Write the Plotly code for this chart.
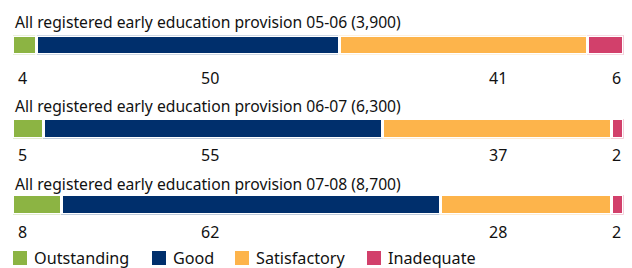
import plotly.graph_objects as go
import numpy as np

# ---- data ----
row_titles = [
    "All registered early education provision 05-06 (3,900)",
    "All registered early education provision 06-07 (6,300)",
    "All registered early education provision 07-08 (8,700)",
]
categories = ["Outstanding", "Good", "Satisfactory", "Inadequate"]
outstanding = [4, 5, 8]
good = [50, 55, 62]
satisfactory = [41, 37, 28]
inadequate = [6, 2, 2]

# ---- style / layout ----
colors = ["#8cb443", "#002f6c", "#fdb44b", "#d2406b"]
FONT = "Noto Sans"
W, H = 632, 268


def px(x):
    return x / W


def py(y):
    return 1 - y / H


series = [outstanding, good, satisfactory, inadequate]
totals = np.sum(np.array(series), axis=0)

bar_top = [35.3, 118.5, 194.5]
bar_bot = [54.7, 138.5, 214.5]
title_mid = [22, 106, 184]
label_mid = [78, 155, 232]
x_left, x_right = 12.5, 623.5
label_cols = [(16, "left"), (210, "center"), (498, "center"), (623, "right")]

fig = go.Figure()
layout = dict(
    width=W, height=H,
    margin=dict(l=0, r=0, t=0, b=0),
    paper_bgcolor="white", plot_bgcolor="white",
    barmode="stack", showlegend=False,
    font=dict(family=FONT, size=15, color="#111111"),
)
annotations = []
shapes = []

for r in range(3):
    xa = "x" if r == 0 else f"x{r+1}"
    ya = "y" if r == 0 else f"y{r+1}"
    for c, cat in enumerate(categories):
        v = series[c][r]
        fig.add_trace(go.Bar(
            x=[v / totals[r] * 100], y=[0], orientation="h", width=1,
            name=cat, marker=dict(color=colors[c], line=dict(color="white", width=3)),
            xaxis=xa, yaxis=ya, hoverinfo="skip",
        ))
    axkey = "xaxis" if r == 0 else f"xaxis{r+1}"
    aykey = "yaxis" if r == 0 else f"yaxis{r+1}"
    layout[axkey] = dict(domain=[px(x_left), px(x_right)], range=[0, 100],
                         visible=False, fixedrange=True,
                         anchor=ya)
    layout[aykey] = dict(domain=[py(bar_bot[r]), py(bar_top[r])], range=[-0.5, 0.5],
                         visible=False, fixedrange=True, anchor=xa)
    annotations.append(dict(
        text=row_titles[r], xref="paper", yref="paper",
        x=px(13), y=py(title_mid[r]), xanchor="left", yanchor="middle",
        showarrow=False, font=dict(size=15.7),
    ))
    for c in range(4):
        xc, anc = label_cols[c]
        annotations.append(dict(
            text=str(series[c][r]), xref="paper", yref="paper",
            x=px(xc), y=py(label_mid[r]), xanchor=anc, yanchor="middle",
            showarrow=False, font=dict(size=16),
        ))

# manual legend
leg_sq = [13, 152, 235, 367]
leg_y0, leg_y1 = 251, 265
for c, cat in enumerate(categories):
    shapes.append(dict(type="rect", xref="paper", yref="paper",
                       x0=px(leg_sq[c]), x1=px(leg_sq[c] + 14),
                       y0=py(leg_y1), y1=py(leg_y0),
                       fillcolor=colors[c], line=dict(width=0)))
    annotations.append(dict(
        text=cat, xref="paper", yref="paper",
        x=px(leg_sq[c] + 19), y=py(258), xanchor="left", yanchor="middle",
        showarrow=False, font=dict(size=16.2),
    ))

layout["annotations"] = annotations
layout["shapes"] = shapes
fig.update_layout(**layout)
fig.write_html("out.html", config={"displayModeBar": False},
               post_script="document.body.style.margin='0';document.body.style.overflow='hidden';")
